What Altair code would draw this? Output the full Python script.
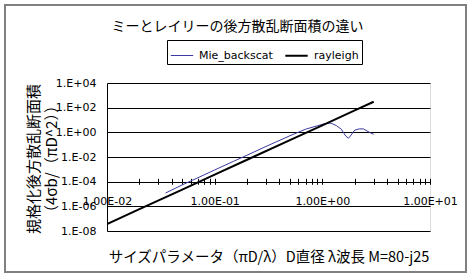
import altair as alt
import pandas as pd

# ---- data ----
mie_x = [0.035, 0.05, 0.07, 0.1, 0.15, 0.2, 0.3, 0.5, 0.7, 0.9, 1.05, 1.2,
         1.35, 1.5, 1.65, 1.75, 1.85, 2.0, 2.2, 2.4, 2.6, 2.8, 3.0]
mie_y = [1.2e-5, 5.5e-5, 2.1e-4, 8.9e-4, 4.5e-3, 1.4e-2, 7.2e-2, 0.53, 1.8,
         3.4, 5.0, 5.6, 3.5, 1.8, 0.5, 0.33, 0.6, 1.5, 1.9, 1.9, 1.3, 0.9, 0.7]
ray_x = [0.01, 0.02, 0.05, 0.1, 0.2, 0.5, 1.0, 2.0, 3.0]
ray_y = [3.7e-8, 6.0e-7, 2.3e-5, 3.7e-4, 6.0e-3, 0.23, 3.7, 60.0, 300.0]

series_names = ["Mie_backscat", "rayleigh"]
series_colors = ["#3a3aa0", "#000000"]
series_widths = [1, 2]

y_ticks = [1e-8, 1e-6, 1e-4, 1e-2, 1e0, 1e2, 1e4]
x_decades = [0.01, 0.1, 1.0]
x_mult = [1, 2, 3, 4, 5, 6, 7, 8, 9]
x_ticks = [round(d * m, 6) for d in x_decades for m in x_mult] + [10.0]

title_text = "ミーとレイリーの後方散乱断面積の違い"
x_title = "サイズパラメータ（πD/λ）D直径 λ波長 M=80-j25"
y_title = ["規格化後方散乱断面積", "（4σb/（πD^2））"]

df = pd.concat([
    pd.DataFrame({"x": mie_x, "y": mie_y, "series": series_names[0]}),
    pd.DataFrame({"x": ray_x, "y": ray_y, "series": series_names[1]}),
])
one = pd.DataFrame({"a": [0]})

LOG = "round(log(datum.value)/LN10)"
y_label = "'1.E' + (" + LOG + " < 0 ? '-' : '+') + format(abs(" + LOG + "), '02d')"
x_label = ("abs(log(datum.value)/LN10 - " + LOG + ") < 0.001 ? '1.00E' + (" + LOG +
           " < 0 ? '-' : '+') + format(abs(" + LOG + "), '02d') : ''")

W, H = 323, 148

legend_kw = dict(title=None, orient="none", legendX=60, legendY=-43,
                 direction="horizontal", symbolType="stroke", symbolSize=500,
                 labelFont="DejaVu Sans", labelFontSize=11, labelColor="#000",
                 strokeColor="#000", fillColor="#fff", padding=3,
                 columnPadding=8, labelOffset=5)

lines = alt.Chart(df).mark_line(clip=True).encode(
    x=alt.X("x:Q",
            scale=alt.Scale(type="log", domain=[0.01, 10], nice=False),
            axis=alt.Axis(values=x_ticks, labelExpr=x_label, title=x_title,
                          domain=False, grid=False, tickSize=6, tickColor="#000",
                          offset=-52.7, labelPadding=11, labelFlush=False,
                          labelOverlap=False, labelFont="DejaVu Sans",
                          labelFontSize=11, labelColor="#000",
                          titleFont="Noto Sans CJK JP", titleFontSize=14.5,
                          titleFontWeight="normal", titleColor="#000",
                          titleX=W / 2, titleAlign="center",
                          titleY=79, titleBaseline="middle")),
    y=alt.Y("y:Q",
            scale=alt.Scale(type="log", domain=[1e-8, 1e4], nice=False),
            axis=alt.Axis(values=y_ticks, labelExpr=y_label, title=None,
                          domain=True, domainColor="#000", ticks=False,
                          grid=True, gridColor="#000", gridWidth=1,
                          labelPadding=11, labelFont="DejaVu Sans",
                          labelFontSize=11, labelColor="#000",
                          labelOverlap=False)),
    color=alt.Color("series:N",
                    scale=alt.Scale(domain=series_names, range=series_colors),
                    legend=alt.Legend(**legend_kw)),
    strokeWidth=alt.StrokeWidth("series:N",
                                scale=alt.Scale(domain=series_names, range=series_widths),
                                legend=alt.Legend(**legend_kw)),
)

# y-axis title (two lines, rotated) placed left of the axis labels
ytitle = alt.Chart(one).mark_text(
    font="Noto Sans CJK JP", fontSize=15, color="#000", angle=270,
    align="center", baseline="middle", lineHeight=18
).encode(x=alt.value(-73), y=alt.value(76), text=alt.value(y_title))

frame = alt.Chart(one).mark_rect(
    fill=None, stroke="#808080", strokeWidth=2
).encode(x=alt.value(-102), x2=alt.value(359), y=alt.value(-78), y2=alt.value(189))

chart = alt.layer(frame, ytitle, lines).properties(
    width=W, height=H,
    title=alt.TitleParams(title_text, font="Noto Sans CJK JP", fontSize=14,
                          fontWeight="normal", color="#000", anchor="middle",
                          dx=-31, offset=-30),
    autosize=alt.AutoSizeParams(type="none"),
    padding={"left": 107, "top": 83, "right": 44, "bottom": 47},
).configure_view(stroke=None).configure(background="white")

chart.save("out.html", embed_options={"renderer": "svg", "actions": False})
